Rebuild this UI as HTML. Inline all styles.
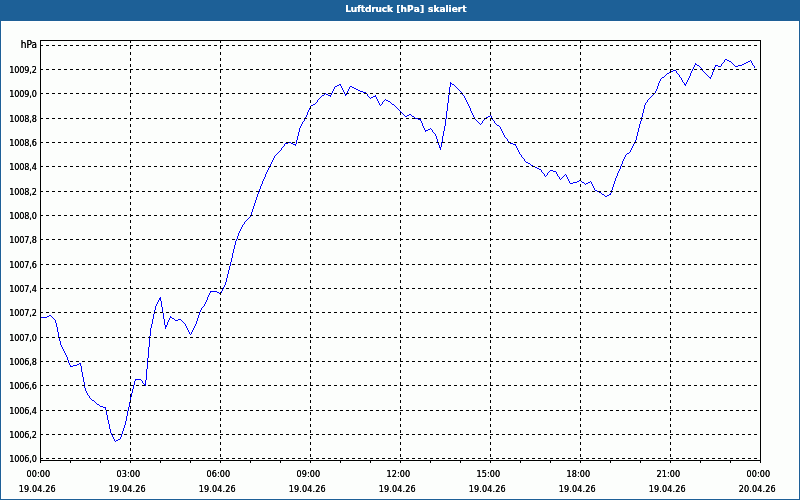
<!DOCTYPE html>
<html lang="de">
<head>
<meta charset="utf-8">
<title>Luftdruck [hPa] skaliert</title>
<style>
html,body{margin:0;padding:0;}
body{width:800px;height:500px;overflow:hidden;background:#fcfefc;position:relative;font-family:"Liberation Sans",sans-serif;}
.frame{position:absolute;left:0;top:0;width:798px;height:498px;border:1px solid #1d6097;box-shadow:inset 0 0 0 1px #ffffff;}
.title{position:absolute;left:0;top:0;width:800px;height:21px;background:#1d6097;color:#fff;font-family:"DejaVu Sans","Liberation Sans",sans-serif;font-weight:bold;font-size:9px;line-height:21px;text-align:left;white-space:nowrap;}
.title span{display:block;position:absolute;left:345.3px;top:-1px;letter-spacing:0;word-spacing:0.5px;text-shadow:0 0 0 #fff;}
.title b{font-weight:bold;letter-spacing:-0.17px;}
.title i{font-style:normal;letter-spacing:0.2px;}
.topline{position:absolute;left:1px;top:21px;width:798px;height:1px;background:#ffffff;}
.plot{position:absolute;left:0;top:0;}
.yl{position:absolute;left:0;width:36.8px;text-align:right;font-family:"DejaVu Sans Condensed","DejaVu Sans","Liberation Sans",sans-serif;font-stretch:condensed;font-size:9px;line-height:12px;height:12px;color:#000;letter-spacing:-0.15px;text-shadow:0 0 0 #000;white-space:nowrap;}
.yl.u{font-size:10px;letter-spacing:0.1px;width:37.2px;}
.xl{position:absolute;width:60px;text-align:center;font-family:"DejaVu Sans Condensed","DejaVu Sans","Liberation Sans",sans-serif;font-stretch:condensed;font-size:9px;line-height:12px;height:12px;color:#000;letter-spacing:0.1px;text-shadow:0 0 0 #000;white-space:nowrap;}
</style>
</head>
<body>
<div class="frame"></div>
<div class="topline"></div>
<div class="title"><span><b>Luftdruck </b><i>[hPa] </i>skaliert</span></div>
<svg class="plot" width="800" height="500" viewBox="0 0 800 500" shape-rendering="crispEdges">
<g stroke="#000" stroke-width="1">
<line x1="40.5" y1="460" x2="40.5" y2="463"/>
<line x1="70.5" y1="460" x2="70.5" y2="463"/>
<line x1="100.5" y1="460" x2="100.5" y2="463"/>
<line x1="130.5" y1="460" x2="130.5" y2="463"/>
<line x1="160.5" y1="460" x2="160.5" y2="463"/>
<line x1="190.5" y1="460" x2="190.5" y2="463"/>
<line x1="220.5" y1="460" x2="220.5" y2="463"/>
<line x1="250.5" y1="460" x2="250.5" y2="463"/>
<line x1="280.5" y1="460" x2="280.5" y2="463"/>
<line x1="310.5" y1="460" x2="310.5" y2="463"/>
<line x1="340.5" y1="460" x2="340.5" y2="463"/>
<line x1="370.5" y1="460" x2="370.5" y2="463"/>
<line x1="400.5" y1="460" x2="400.5" y2="463"/>
<line x1="430.5" y1="460" x2="430.5" y2="463"/>
<line x1="460.5" y1="460" x2="460.5" y2="463"/>
<line x1="490.5" y1="460" x2="490.5" y2="463"/>
<line x1="520.5" y1="460" x2="520.5" y2="463"/>
<line x1="550.5" y1="460" x2="550.5" y2="463"/>
<line x1="580.5" y1="460" x2="580.5" y2="463"/>
<line x1="610.5" y1="460" x2="610.5" y2="463"/>
<line x1="640.5" y1="460" x2="640.5" y2="463"/>
<line x1="670.5" y1="460" x2="670.5" y2="463"/>
<line x1="700.5" y1="460" x2="700.5" y2="463"/>
<line x1="730.5" y1="460" x2="730.5" y2="463"/>
<line x1="760.5" y1="460" x2="760.5" y2="463"/>
</g>
<path d="M40 317h7v1h-7zM47 316h2v1h-2zM49 315h2v1h-2zM51 316h1v1h-1zM52 317h1v1h-1zM53 318h1v1h-1zM54 319h1v1h-1zM55 320h1v3h-1zM56 323h1v4h-1zM57 327h1v5h-1zM58 332h1v5h-1zM59 337h1v4h-1zM60 341h1v4h-1zM61 345h1v2h-1zM62 347h1v2h-1zM63 349h1v2h-1zM64 351h1v2h-1zM65 353h1v2h-1zM66 355h1v2h-1zM67 357h1v3h-1zM68 360h1v3h-1zM69 363h1v2h-1zM70 365h1v2h-1zM71 366h2v1h-2zM73 365h4v1h-4zM77 364h2v1h-2zM79 363h1v1h-1zM80 363h1v3h-1zM81 366h1v6h-1zM82 372h1v5h-1zM83 377h1v5h-1zM84 382h1v6h-1zM85 388h1v3h-1zM86 391h1v2h-1zM87 393h1v2h-1zM88 395h1v1h-1zM89 396h1v2h-1zM90 398h1v1h-1zM91 399h1v1h-1zM92 400h2v1h-2zM94 401h1v1h-1zM95 402h1v1h-1zM96 403h1v1h-1zM97 404h2v1h-2zM99 405h1v1h-1zM100 406h3v1h-3zM103 407h2v1h-2zM105 407h1v3h-1zM106 410h1v5h-1zM107 415h1v5h-1zM108 420h1v4h-1zM109 424h1v5h-1zM110 429h1v4h-1zM111 433h1v2h-1zM112 435h1v2h-1zM113 437h1v2h-1zM114 439h1v2h-1zM115 441h1v1h-1zM116 440h2v1h-2zM118 439h2v1h-2zM120 437h1v2h-1zM121 434h1v3h-1zM122 431h1v3h-1zM123 428h1v3h-1zM124 425h1v3h-1zM125 421h1v4h-1zM126 416h1v5h-1zM127 411h1v5h-1zM128 407h1v4h-1zM129 402h1v5h-1zM130 397h1v5h-1zM131 393h1v4h-1zM132 389h1v4h-1zM133 385h1v4h-1zM134 381h1v4h-1zM135 379h1v2h-1zM136 379h5v1h-5zM141 380h1v1h-1zM142 381h1v2h-1zM143 383h1v1h-1zM144 384h1v1h-1zM145 380h1v6h-1zM146 369h1v11h-1zM147 358h1v11h-1zM148 347h1v11h-1zM149 336h1v11h-1zM150 328h1v8h-1zM151 324h1v4h-1zM152 319h1v5h-1zM153 314h1v5h-1zM154 310h1v4h-1zM155 306h1v4h-1zM156 304h1v2h-1zM157 302h1v2h-1zM158 300h1v2h-1zM159 298h1v2h-1zM160 297h1v4h-1zM161 301h1v6h-1zM162 307h1v6h-1zM163 313h1v6h-1zM164 319h1v6h-1zM165 325h1v4h-1zM166 325h1v2h-1zM167 322h1v3h-1zM168 320h1v2h-1zM169 318h1v2h-1zM170 316h1v2h-1zM171 317h1v1h-1zM172 318h2v1h-2zM174 319h1v1h-1zM175 320h3v1h-3zM178 319h3v1h-3zM181 320h1v1h-1zM182 321h1v1h-1zM183 322h1v1h-1zM184 323h1v1h-1zM185 324h1v2h-1zM186 326h1v2h-1zM187 328h1v2h-1zM188 330h1v2h-1zM189 332h1v2h-1zM190 334h1v1h-1zM191 332h1v2h-1zM192 330h1v2h-1zM193 328h1v2h-1zM194 326h1v2h-1zM195 324h1v2h-1zM196 321h1v3h-1zM197 318h1v3h-1zM198 315h1v3h-1zM199 312h1v3h-1zM200 310h1v2h-1zM201 308h1v2h-1zM202 307h1v1h-1zM203 306h1v1h-1zM204 304h1v2h-1zM205 302h1v2h-1zM206 300h1v2h-1zM207 297h1v3h-1zM208 295h1v2h-1zM209 293h1v2h-1zM210 291h1v2h-1zM211 291h6v1h-6zM217 292h2v1h-2zM219 293h2v1h-2zM221 291h1v2h-1zM222 289h1v2h-1zM223 287h1v2h-1zM224 285h1v2h-1zM225 282h1v3h-1zM226 278h1v4h-1zM227 274h1v4h-1zM228 270h1v4h-1zM229 266h1v4h-1zM230 262h1v4h-1zM231 258h1v4h-1zM232 253h1v5h-1zM233 249h1v4h-1zM234 245h1v4h-1zM235 241h1v4h-1zM236 239h1v2h-1zM237 236h1v3h-1zM238 233h1v3h-1zM239 231h1v2h-1zM240 229h1v2h-1zM241 227h1v2h-1zM242 225h1v2h-1zM243 224h1v1h-1zM244 222h1v2h-1zM245 221h1v1h-1zM246 220h1v1h-1zM247 219h1v1h-1zM248 218h1v1h-1zM249 217h1v1h-1zM250 215h1v2h-1zM251 212h1v3h-1zM252 209h1v3h-1zM253 206h1v3h-1zM254 203h1v3h-1zM255 200h1v3h-1zM256 197h1v3h-1zM257 194h1v3h-1zM258 192h1v2h-1zM259 189h1v3h-1zM260 186h1v3h-1zM261 184h1v2h-1zM262 181h1v3h-1zM263 179h1v2h-1zM264 177h1v2h-1zM265 174h1v3h-1zM266 172h1v2h-1zM267 170h1v2h-1zM268 168h1v2h-1zM269 166h1v2h-1zM270 164h1v2h-1zM271 162h1v2h-1zM272 160h1v2h-1zM273 158h1v2h-1zM274 156h1v2h-1zM275 155h1v1h-1zM276 154h1v1h-1zM277 153h1v1h-1zM278 152h1v1h-1zM279 151h1v1h-1zM280 150h1v1h-1zM281 148h1v2h-1zM282 147h1v1h-1zM283 146h1v1h-1zM284 144h1v2h-1zM285 143h3v1h-3zM288 142h3v1h-3zM291 143h2v1h-2zM293 144h2v1h-2zM295 144h1v2h-1zM296 140h1v4h-1zM297 136h1v4h-1zM298 132h1v4h-1zM299 128h1v4h-1zM300 126h1v2h-1zM301 124h1v2h-1zM302 122h1v2h-1zM303 121h1v1h-1zM304 119h1v2h-1zM305 117h1v2h-1zM306 115h1v2h-1zM307 112h1v3h-1zM308 110h1v2h-1zM309 108h1v2h-1zM310 106h1v2h-1zM311 105h2v1h-2zM313 104h2v1h-2zM315 103h1v1h-1zM316 102h1v1h-1zM317 100h1v2h-1zM318 99h1v1h-1zM319 98h1v1h-1zM320 97h1v1h-1zM321 96h1v1h-1zM322 95h2v1h-2zM324 94h1v1h-1zM325 93h1v1h-1zM326 94h2v1h-2zM328 95h2v1h-2zM330 95h1v2h-1zM331 93h1v2h-1zM332 91h1v2h-1zM333 89h1v2h-1zM334 87h1v2h-1zM335 86h2v1h-2zM337 85h2v1h-2zM339 84h1v1h-1zM340 84h1v2h-1zM341 86h1v2h-1zM342 88h1v2h-1zM343 90h1v2h-1zM344 92h1v2h-1zM345 94h1v2h-1zM346 93h1v2h-1zM347 91h1v2h-1zM348 89h1v2h-1zM349 87h1v2h-1zM350 86h2v1h-2zM352 87h2v1h-2zM354 88h2v1h-2zM356 89h2v1h-2zM358 90h2v1h-2zM360 91h3v1h-3zM363 92h3v1h-3zM366 93h1v1h-1zM367 94h1v2h-1zM368 96h1v1h-1zM369 97h1v1h-1zM370 98h1v1h-1zM371 97h2v1h-2zM373 96h2v1h-2zM375 95h1v2h-1zM376 97h1v2h-1zM377 99h1v2h-1zM378 101h1v2h-1zM379 103h1v2h-1zM380 105h1v1h-1zM381 104h1v1h-1zM382 102h1v2h-1zM383 101h1v1h-1zM384 100h1v1h-1zM385 99h1v1h-1zM386 100h2v1h-2zM388 101h2v1h-2zM390 102h1v1h-1zM391 103h1v1h-1zM392 104h2v1h-2zM394 105h1v1h-1zM395 106h1v1h-1zM396 107h1v1h-1zM397 108h1v1h-1zM398 109h1v1h-1zM399 110h1v1h-1zM400 111h1v1h-1zM401 112h1v1h-1zM402 113h1v1h-1zM403 114h1v1h-1zM404 115h1v1h-1zM405 116h2v1h-2zM407 115h2v1h-2zM409 114h2v1h-2zM411 115h1v1h-1zM412 116h2v1h-2zM414 117h1v1h-1zM415 118h3v1h-3zM418 119h2v1h-2zM420 119h1v2h-1zM421 121h1v2h-1zM422 123h1v3h-1zM423 126h1v2h-1zM424 128h1v2h-1zM425 130h1v2h-1zM426 130h2v1h-2zM428 129h2v1h-2zM430 128h1v1h-1zM431 129h1v1h-1zM432 130h1v2h-1zM433 132h1v1h-1zM434 133h1v1h-1zM435 134h1v2h-1zM436 136h1v3h-1zM437 139h1v3h-1zM438 142h1v3h-1zM439 145h1v3h-1zM440 147h1v3h-1zM441 142h1v5h-1zM442 136h1v6h-1zM443 131h1v5h-1zM444 126h1v5h-1zM445 119h1v7h-1zM446 111h1v8h-1zM447 103h1v8h-1zM448 95h1v8h-1zM449 87h1v8h-1zM450 82h1v5h-1zM451 83h1v1h-1zM452 84h2v1h-2zM454 85h1v1h-1zM455 86h1v1h-1zM456 87h1v1h-1zM457 88h1v1h-1zM458 89h1v1h-1zM459 90h1v1h-1zM460 91h1v1h-1zM461 92h1v2h-1zM462 94h1v1h-1zM463 95h1v1h-1zM464 96h1v2h-1zM465 98h1v2h-1zM466 100h1v2h-1zM467 102h1v2h-1zM468 104h1v2h-1zM469 106h1v2h-1zM470 108h1v3h-1zM471 111h1v2h-1zM472 113h1v2h-1zM473 115h1v2h-1zM474 117h1v2h-1zM475 119h1v1h-1zM476 120h1v1h-1zM477 121h1v1h-1zM478 122h1v1h-1zM479 123h1v1h-1zM480 124h1v1h-1zM481 123h1v1h-1zM482 121h1v2h-1zM483 120h1v1h-1zM484 119h1v1h-1zM485 118h1v1h-1zM486 117h2v1h-2zM488 116h2v1h-2zM490 115h1v1h-1zM491 116h1v2h-1zM492 118h1v2h-1zM493 120h1v1h-1zM494 121h1v2h-1zM495 123h1v1h-1zM496 124h1v1h-1zM497 125h2v1h-2zM499 126h1v1h-1zM500 127h1v2h-1zM501 129h1v2h-1zM502 131h1v2h-1zM503 133h1v2h-1zM504 135h1v2h-1zM505 137h1v1h-1zM506 138h1v1h-1zM507 139h1v2h-1zM508 141h1v1h-1zM509 142h1v1h-1zM510 143h3v1h-3zM513 144h2v1h-2zM515 144h1v2h-1zM516 146h1v2h-1zM517 148h1v2h-1zM518 150h1v2h-1zM519 152h1v2h-1zM520 154h1v1h-1zM521 155h1v2h-1zM522 157h1v1h-1zM523 158h1v1h-1zM524 159h1v2h-1zM525 161h1v1h-1zM526 162h2v1h-2zM528 163h2v1h-2zM530 164h1v1h-1zM531 165h2v1h-2zM533 166h2v1h-2zM535 167h2v1h-2zM537 168h2v1h-2zM539 169h2v1h-2zM541 170h1v2h-1zM542 172h1v1h-1zM543 173h1v1h-1zM544 174h1v2h-1zM545 176h1v1h-1zM546 175h1v1h-1zM547 173h1v2h-1zM548 172h1v1h-1zM549 171h1v1h-1zM550 170h3v1h-3zM553 171h3v1h-3zM556 172h1v2h-1zM557 174h1v2h-1zM558 176h1v1h-1zM559 177h1v2h-1zM560 179h1v1h-1zM561 178h1v1h-1zM562 177h1v1h-1zM563 176h1v1h-1zM564 175h1v1h-1zM565 174h1v1h-1zM566 175h1v2h-1zM567 177h1v2h-1zM568 179h1v2h-1zM569 181h1v2h-1zM570 183h3v1h-3zM573 182h4v1h-4zM577 181h2v1h-2zM579 180h2v1h-2zM581 181h1v1h-1zM582 182h2v1h-2zM584 183h1v1h-1zM585 184h1v1h-1zM586 183h2v1h-2zM588 182h2v1h-2zM590 181h1v1h-1zM591 182h1v2h-1zM592 184h1v2h-1zM593 186h1v2h-1zM594 188h1v2h-1zM595 190h2v1h-2zM597 191h2v1h-2zM599 192h2v1h-2zM601 193h1v1h-1zM602 194h2v1h-2zM604 195h1v1h-1zM605 196h2v1h-2zM607 195h2v1h-2zM609 194h1v1h-1zM610 193h1v2h-1zM611 190h1v3h-1zM612 187h1v3h-1zM613 184h1v3h-1zM614 181h1v3h-1zM615 178h1v3h-1zM616 176h1v2h-1zM617 173h1v3h-1zM618 171h1v2h-1zM619 169h1v2h-1zM620 166h1v3h-1zM621 164h1v2h-1zM622 161h1v3h-1zM623 159h1v2h-1zM624 157h1v2h-1zM625 155h1v2h-1zM626 154h1v1h-1zM627 153h2v1h-2zM629 152h1v1h-1zM630 150h1v2h-1zM631 148h1v2h-1zM632 146h1v2h-1zM633 144h1v2h-1zM634 142h1v2h-1zM635 140h1v2h-1zM636 136h1v4h-1zM637 132h1v4h-1zM638 128h1v4h-1zM639 124h1v4h-1zM640 121h1v3h-1zM641 117h1v4h-1zM642 113h1v4h-1zM643 109h1v4h-1zM644 105h1v4h-1zM645 103h1v2h-1zM646 102h1v1h-1zM647 100h1v2h-1zM648 99h1v1h-1zM649 98h1v1h-1zM650 97h1v1h-1zM651 96h1v1h-1zM652 95h1v1h-1zM653 94h1v1h-1zM654 93h1v1h-1zM655 91h1v2h-1zM656 89h1v2h-1zM657 86h1v3h-1zM658 83h1v3h-1zM659 81h1v2h-1zM660 79h1v2h-1zM661 78h1v1h-1zM662 77h2v1h-2zM664 76h1v1h-1zM665 75h1v1h-1zM666 74h1v1h-1zM667 73h2v1h-2zM669 72h1v1h-1zM670 71h3v1h-3zM673 70h3v1h-3zM676 71h1v2h-1zM677 73h1v1h-1zM678 74h1v1h-1zM679 75h1v2h-1zM680 77h1v1h-1zM681 78h1v2h-1zM682 80h1v2h-1zM683 82h1v1h-1zM684 83h1v2h-1zM685 84h1v2h-1zM686 82h1v2h-1zM687 80h1v2h-1zM688 78h1v2h-1zM689 76h1v2h-1zM690 73h1v3h-1zM691 71h1v2h-1zM692 69h1v2h-1zM693 67h1v2h-1zM694 65h1v2h-1zM695 63h1v2h-1zM696 64h1v1h-1zM697 65h2v1h-2zM699 66h1v1h-1zM700 67h1v1h-1zM701 68h1v1h-1zM702 69h1v2h-1zM703 71h1v1h-1zM704 72h1v1h-1zM705 73h1v1h-1zM706 74h1v1h-1zM707 75h1v1h-1zM708 76h1v1h-1zM709 77h1v1h-1zM710 77h1v2h-1zM711 75h1v2h-1zM712 72h1v3h-1zM713 69h1v3h-1zM714 67h1v2h-1zM715 65h1v2h-1zM716 65h2v1h-2zM718 66h3v1h-3zM721 64h1v2h-1zM722 63h1v1h-1zM723 62h1v1h-1zM724 60h1v2h-1zM725 59h2v1h-2zM727 60h2v1h-2zM729 61h2v1h-2zM731 62h1v1h-1zM732 63h1v1h-1zM733 64h1v1h-1zM734 65h1v1h-1zM735 66h3v1h-3zM738 65h4v1h-4zM742 64h2v1h-2zM744 63h2v1h-2zM746 62h2v1h-2zM748 61h2v1h-2zM750 60h1v1h-1zM751 61h1v2h-1zM752 63h1v2h-1zM753 65h1v1h-1zM754 66h1v2h-1z" fill="#0000ff" stroke="none"/>
<g stroke="#000" stroke-width="1" stroke-dasharray="3 3" fill="none">
<line x1="40" y1="45.5" x2="760" y2="45.5"/>
<line x1="40" y1="69.5" x2="760" y2="69.5"/>
<line x1="40" y1="93.5" x2="760" y2="93.5"/>
<line x1="40" y1="118.5" x2="760" y2="118.5"/>
<line x1="40" y1="142.5" x2="760" y2="142.5"/>
<line x1="40" y1="166.5" x2="760" y2="166.5"/>
<line x1="40" y1="191.5" x2="760" y2="191.5"/>
<line x1="40" y1="215.5" x2="760" y2="215.5"/>
<line x1="40" y1="239.5" x2="760" y2="239.5"/>
<line x1="40" y1="264.5" x2="760" y2="264.5"/>
<line x1="40" y1="288.5" x2="760" y2="288.5"/>
<line x1="40" y1="312.5" x2="760" y2="312.5"/>
<line x1="40" y1="337.5" x2="760" y2="337.5"/>
<line x1="40" y1="361.5" x2="760" y2="361.5"/>
<line x1="40" y1="385.5" x2="760" y2="385.5"/>
<line x1="40" y1="410.5" x2="760" y2="410.5"/>
<line x1="40" y1="434.5" x2="760" y2="434.5"/>
<line x1="40" y1="458.5" x2="760" y2="458.5"/>
<line x1="130.5" y1="40" x2="130.5" y2="460"/>
<line x1="220.5" y1="40" x2="220.5" y2="460"/>
<line x1="310.5" y1="40" x2="310.5" y2="460"/>
<line x1="400.5" y1="40" x2="400.5" y2="460"/>
<line x1="490.5" y1="40" x2="490.5" y2="460"/>
<line x1="580.5" y1="40" x2="580.5" y2="460"/>
<line x1="670.5" y1="40" x2="670.5" y2="460"/>
</g>
<rect x="40.5" y="40.5" width="720" height="420" fill="none" stroke="#000" stroke-width="1"/>
</svg>
<div class="yl u" style="top:39px">hPa</div>
<div class="yl" style="top:64px">1009,2</div>
<div class="yl" style="top:88px">1009,0</div>
<div class="yl" style="top:113px">1008,8</div>
<div class="yl" style="top:137px">1008,6</div>
<div class="yl" style="top:161px">1008,4</div>
<div class="yl" style="top:186px">1008,2</div>
<div class="yl" style="top:210px">1008,0</div>
<div class="yl" style="top:234px">1007,8</div>
<div class="yl" style="top:259px">1007,6</div>
<div class="yl" style="top:283px">1007,4</div>
<div class="yl" style="top:307px">1007,2</div>
<div class="yl" style="top:332px">1007,0</div>
<div class="yl" style="top:356px">1006,8</div>
<div class="yl" style="top:380px">1006,6</div>
<div class="yl" style="top:405px">1006,4</div>
<div class="yl" style="top:429px">1006,2</div>
<div class="yl" style="top:453px">1006,0</div>
<div class="xl" style="left:8.3px;top:468px">00:00</div>
<div class="xl" style="left:7.3px;top:483px">19.04.26</div>
<div class="xl" style="left:98.3px;top:468px">03:00</div>
<div class="xl" style="left:97.3px;top:483px">19.04.26</div>
<div class="xl" style="left:188.3px;top:468px">06:00</div>
<div class="xl" style="left:187.3px;top:483px">19.04.26</div>
<div class="xl" style="left:278.3px;top:468px">09:00</div>
<div class="xl" style="left:277.3px;top:483px">19.04.26</div>
<div class="xl" style="left:368.3px;top:468px">12:00</div>
<div class="xl" style="left:367.3px;top:483px">19.04.26</div>
<div class="xl" style="left:458.3px;top:468px">15:00</div>
<div class="xl" style="left:457.3px;top:483px">19.04.26</div>
<div class="xl" style="left:548.3px;top:468px">18:00</div>
<div class="xl" style="left:547.3px;top:483px">19.04.26</div>
<div class="xl" style="left:638.3px;top:468px">21:00</div>
<div class="xl" style="left:637.3px;top:483px">19.04.26</div>
<div class="xl" style="left:728.3px;top:468px">00:00</div>
<div class="xl" style="left:727.3px;top:483px">20.04.26</div>
</body>
</html>
